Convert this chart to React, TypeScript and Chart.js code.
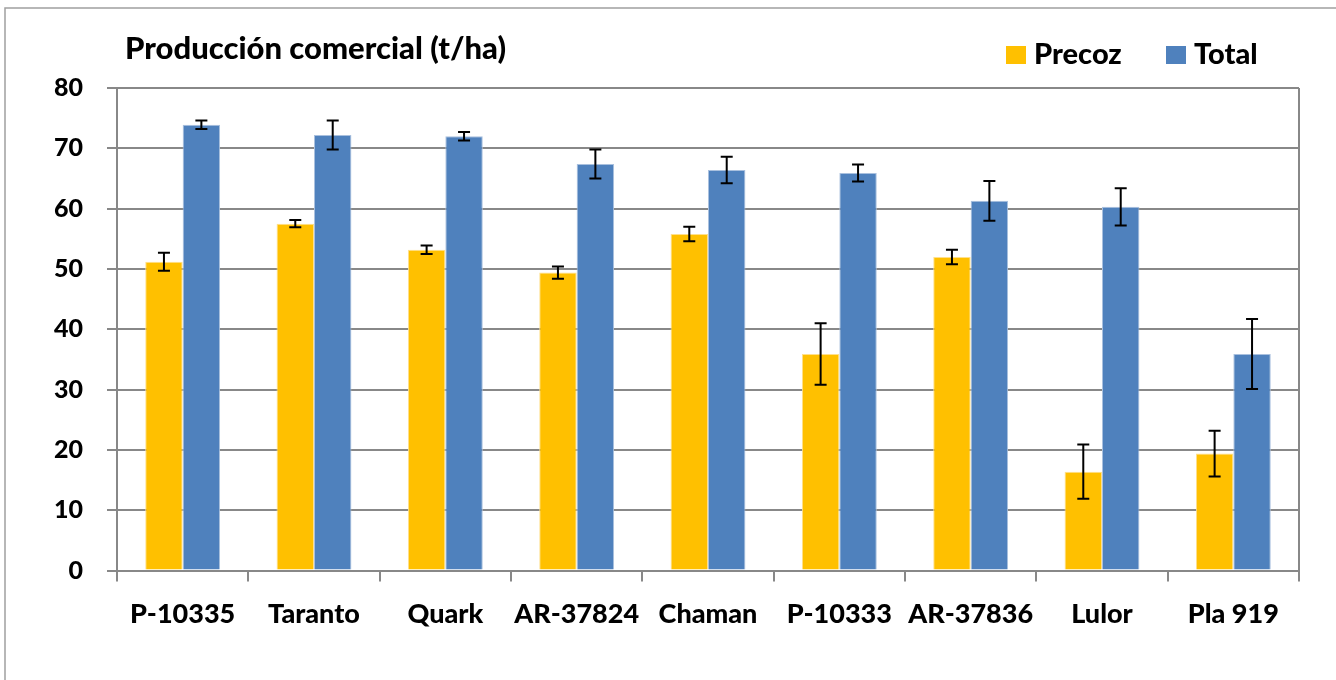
import React, { useEffect, useRef } from "react";
import { Chart, registerables } from "chart.js";

Chart.register(...registerables);

const categories = ["P-10335", "Taranto", "Quark", "AR-37824", "Chaman", "P-10333", "AR-37836", "Lulor", "Pla 919"];
const precoz = [51.2, 57.5, 53.2, 49.4, 55.8, 35.9, 52.0, 16.4, 19.4];
const precozErr = [1.5, 0.6, 0.7, 1.0, 1.2, 5.1, 1.2, 4.5, 3.8];
const total = [73.9, 72.2, 72.0, 67.4, 66.4, 65.9, 61.3, 60.3, 35.9];
const totalErr = [0.7, 2.4, 0.7, 2.4, 2.2, 1.4, 3.3, 3.1, 5.8];
const yTicks = [0, 10, 20, 30, 40, 50, 60, 70, 80];
const titleText = "Producción comercial (t/ha)";

const FONT = "Lato, 'Open Sans', sans-serif";
const WEIGHT = "900";

const errorBarsPlugin = {
  id: "errorBars",
  afterDatasetsDraw(chart: any) {
    const ctx = chart.ctx;
    const yScale = chart.scales.y;
    const errs = [precozErr, totalErr];
    ctx.save();
    ctx.strokeStyle = "#000";
    ctx.lineWidth = 2;
    chart.data.datasets.forEach((ds: any, di: number) => {
      const meta = chart.getDatasetMeta(di);
      meta.data.forEach((bar: any, i: number) => {
        const v = ds.data[i];
        const e = errs[di][i];
        const yTop = yScale.getPixelForValue(v + e);
        const yBot = yScale.getPixelForValue(v - e);
        const x = bar.x;
        ctx.beginPath();
        ctx.moveTo(x, yTop);
        ctx.lineTo(x, yBot);
        ctx.moveTo(x - 6, yTop);
        ctx.lineTo(x + 6, yTop);
        ctx.moveTo(x - 6, yBot);
        ctx.lineTo(x + 6, yBot);
        ctx.stroke();
      });
    });
    ctx.restore();
  },
};

const framePlugin = {
  id: "frame",
  beforeDraw(chart: any) {
    const ctx = chart.ctx;
    ctx.save();
    ctx.fillStyle = "#fff";
    ctx.fillRect(0, 0, chart.width, chart.height);
    ctx.strokeStyle = "#a0a0a0";
    ctx.lineWidth = 1.5;
    ctx.strokeRect(5, 8, chart.width + 20, chart.height + 20);
    ctx.restore();
  },
  afterDraw(chart: any) {
    const ctx = chart.ctx;
    const a = chart.chartArea;
    ctx.save();
    // right border of plot area
    ctx.strokeStyle = "#888";
    ctx.lineWidth = 2;
    ctx.beginPath();
    ctx.moveTo(a.right, a.top);
    ctx.lineTo(a.right, a.bottom);
    ctx.stroke();
    // title
    ctx.fillStyle = "#000";
    ctx.font = `${WEIGHT} 31px ${FONT}`;
    ctx.textBaseline = "alphabetic";
    ctx.textAlign = "left";
    ctx.fillText(titleText, 125, 59);
    // legend
    ctx.font = `${WEIGHT} 29px ${FONT}`;
    const items = [
      { x: 1006, ds: chart.data.datasets[0] },
      { x: 1166, ds: chart.data.datasets[1] },
    ];
    items.forEach((it) => {
      ctx.fillStyle = it.ds.backgroundColor;
      ctx.fillRect(it.x, 46, 20, 18);
      ctx.fillStyle = "#000";
      ctx.fillText(it.ds.label, it.x + 28, 64);
    });
    ctx.restore();
  },
};

export default function App() {
  const ref = useRef<HTMLCanvasElement | null>(null);
  useEffect(() => {
    document.body.style.margin = "0";
    const canvas = ref.current!;
    const chart = new Chart(canvas, {
      type: "bar",
      data: {
        labels: categories,
        datasets: [
          { label: "Precoz", data: precoz, backgroundColor: "#FFC000", borderColor: "#FFE08C", borderWidth: 1, categoryPercentage: 0.57, barPercentage: 1 },
          { label: "Total", data: total, backgroundColor: "#4F81BD", borderColor: "#A9C0DE", borderWidth: 1, categoryPercentage: 0.57, barPercentage: 1 },
        ],
      },
      options: {
        animation: false,
        responsive: false,
        maintainAspectRatio: false,
        layout: { padding: { left: 30, right: 37, top: 88, bottom: 34 } },
        plugins: {
          tooltip: { enabled: false },
          legend: { display: false },
        },
        scales: {
          x: {
            offset: true,
            grid: { offset: true, drawOnChartArea: false, drawTicks: true, tickLength: 11, color: "#888", lineWidth: 2 },
            border: { color: "#888", width: 2 },
            ticks: { color: "#000", padding: 16, font: { family: FONT, size: 27, weight: WEIGHT }, maxRotation: 0, autoSkip: false },
          },
          y: {
            min: 0,
            max: 80,
            afterBuildTicks: (s: any) => { s.ticks = yTicks.map((v) => ({ value: v })); },
            grid: { color: "#888", lineWidth: 2, tickLength: 10 },
            border: { color: "#888", width: 2 },
            ticks: { color: "#000", padding: 24, font: { family: FONT, size: 25, weight: WEIGHT } },
          },
        },
      },
      plugins: [errorBarsPlugin, framePlugin],
    });
    return () => chart.destroy();
  }, []);
  return <canvas ref={ref} width={1336} height={680} style={{ display: "block" }} />;
}
